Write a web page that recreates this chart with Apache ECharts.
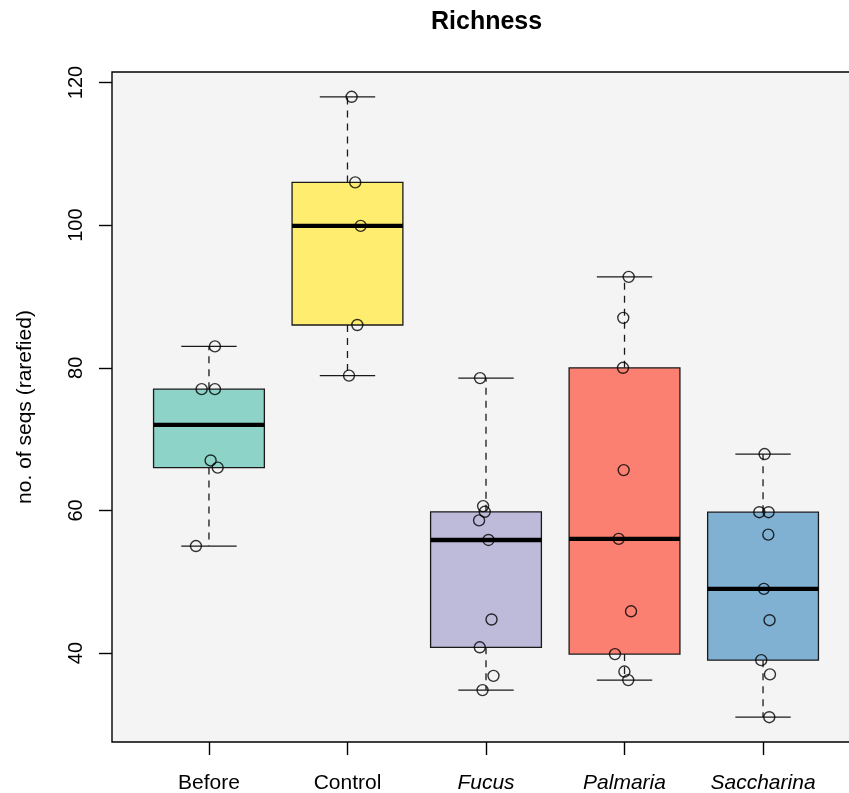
<!DOCTYPE html>
<html>
<head>
<meta charset="utf-8">
<title>Richness</title>
<script src="https://cdn.jsdelivr.net/npm/echarts@6/dist/echarts.min.js"></script>
<style>
  html, body { margin: 0; padding: 0; background: #fff; }
  #chart { width: 849px; height: 793px; }
</style>
</head>
<body>
<div id="chart"></div>
<script>
// Groups, in plotting order
const categories = ['Before', 'Control', 'Fucus', 'Palmaria', 'Saccharina'];

// Observed richness per sample (rarefied number of sequences)
const beforeValues     = [83, 77, 77, 67, 66, 55];
const controlValues    = [118, 106, 99.9, 86, 78.9];
const fucusValues      = [78.55, 60.6, 59.8, 58.6, 55.85, 44.7, 40.8, 36.8, 34.8];
const palmariaValues   = [92.75, 87, 80, 65.65, 56, 45.85, 39.85, 37.4, 36.2];
const saccharinaValues = [67.9, 59.75, 59.75, 56.6, 49, 44.6, 39, 37, 31];

// Horizontal jitter of each sample, in group units
const beforeJitter     = [0.043, -0.053, 0.043, 0.012, 0.063, -0.094];
const controlJitter    = [0.03, 0.056, 0.095, 0.071, 0.011];
const fucusJitter      = [-0.043, -0.021, -0.009, -0.05, 0.018, 0.04, -0.045, 0.054, -0.025];
const palmariaJitter   = [0.03, -0.009, -0.011, -0.006, -0.042, 0.047, -0.069, -0.001, 0.027];
const saccharinaJitter = [0.011, -0.027, 0.04, 0.038, 0.006, 0.047, -0.013, 0.05, 0.045];

// Axis ticks
const yTicks = [40, 60, 80, 100, 120];
const xTicks = [1, 2, 3, 4, 5];

const groupValues = [beforeValues, controlValues, fucusValues, palmariaValues, saccharinaValues];
const groupJitter = [beforeJitter, controlJitter, fucusJitter, palmariaJitter, saccharinaJitter];

const boxColors = ['#8DD3C7', '#FFED6F', '#BEBADA', '#FB8072', '#80B1D3'];
const italicGroups = new Set(['Fucus', 'Palmaria', 'Saccharina']);
const FONT = '"Liberation Sans", Arial, Helvetica, sans-serif';

// Tukey five-number summary (same hinges as R's boxplot)
function fivenum(arr) {
  const x = arr.slice().sort((a, b) => a - b);
  const n = x.length;
  const n4 = Math.floor((n + 3) / 2) / 2;
  const d = [1, n4, (n + 1) / 2, n + 1 - n4, n];
  return d.map(v => 0.5 * (x[Math.floor(v) - 1] + x[Math.ceil(v) - 1]));
}

// Whiskers reach the most extreme points within 1.5 IQR of the hinges
function boxStats(arr) {
  const f = fivenum(arr);
  const iqr = f[3] - f[1];
  const inside = arr.filter(v => v >= f[1] - 1.5 * iqr && v <= f[3] + 1.5 * iqr);
  return [Math.min(...inside), f[1], f[2], f[3], Math.max(...inside)];
}

const boxData = groupValues.map((vals, i) => [i + 1].concat(boxStats(vals)));

const pointData = [];
groupValues.forEach((vals, i) => {
  vals.forEach((v, j) => pointData.push([i + 1 + groupJitter[i][j], v]));
});

const BOX_HALF = 0.4;
const STAPLE_HALF = 0.2;

function renderBox(params, api) {
  const x = api.value(0);
  const lo = api.value(1), q1 = api.value(2), med = api.value(3), q3 = api.value(4), hi = api.value(5);
  const pLoL = api.coord([x - STAPLE_HALF, lo]);
  const pLoR = api.coord([x + STAPLE_HALF, lo]);
  const pHiL = api.coord([x - STAPLE_HALF, hi]);
  const pHiR = api.coord([x + STAPLE_HALF, hi]);
  const cLo = api.coord([x, lo]);
  const cQ1 = api.coord([x, q1]);
  const cQ3 = api.coord([x, q3]);
  const cHi = api.coord([x, hi]);
  const bTL = api.coord([x - BOX_HALF, q3]);
  const bBR = api.coord([x + BOX_HALF, q1]);
  const mL = api.coord([x - BOX_HALF, med]);
  const mR = api.coord([x + BOX_HALF, med]);
  const lineStyle = { stroke: '#1a1a1a', lineWidth: 1.3 };
  const dashStyle = { stroke: '#1a1a1a', lineWidth: 1.3, lineDash: [7, 6] };
  return {
    type: 'group',
    children: [
      { type: 'line', shape: { x1: cQ3[0], y1: cQ3[1], x2: cHi[0], y2: cHi[1] }, style: dashStyle },
      { type: 'line', shape: { x1: cQ1[0], y1: cQ1[1], x2: cLo[0], y2: cLo[1] }, style: dashStyle },
      { type: 'line', shape: { x1: pHiL[0], y1: pHiL[1], x2: pHiR[0], y2: pHiR[1] }, style: lineStyle },
      { type: 'line', shape: { x1: pLoL[0], y1: pLoL[1], x2: pLoR[0], y2: pLoR[1] }, style: lineStyle },
      {
        type: 'rect',
        shape: { x: bTL[0], y: bTL[1], width: bBR[0] - bTL[0], height: bBR[1] - bTL[1] },
        style: { fill: boxColors[params.dataIndex], stroke: '#1a1a1a', lineWidth: 1.3 }
      },
      { type: 'line', shape: { x1: mL[0], y1: mL[1], x2: mR[0], y2: mR[1] }, style: { stroke: '#000', lineWidth: 4.3 } }
    ]
  };
}

const chart = echarts.init(document.getElementById('chart'), null, { renderer: 'canvas' });

chart.setOption({
  animation: false,
  backgroundColor: '#ffffff',
  title: {
    text: 'Richness',
    left: 426,
    top: 5,
    textStyle: { fontFamily: FONT, fontSize: 25, fontWeight: 'bold', color: '#000' }
  },
  grid: {
    left: 112,
    top: 72,
    width: 748,
    height: 670,
    outerBoundsMode: 'none',
    containLabel: false,
    show: true,
    backgroundColor: '#F4F4F4',
    borderColor: '#000',
    borderWidth: 1.4
  },
  xAxis: {
    type: 'value',
    min: 0.3,
    max: 5.7,
    splitLine: { show: false },
    axisLine: { show: false },
    axisTick: { show: true, customValues: xTicks, length: 13, lineStyle: { color: '#000', width: 1.4 } },
    axisLabel: {
      customValues: xTicks,
      margin: 31,
      formatter: function (v) {
        const name = categories[Math.round(v) - 1];
        return italicGroups.has(name) ? '{i|' + name + '}' : '{n|' + name + '}';
      },
      rich: {
        n: { fontFamily: FONT, fontSize: 21, color: '#000' },
        i: { fontFamily: FONT, fontSize: 21, fontStyle: 'italic', color: '#000' }
      }
    }
  },
  yAxis: {
    type: 'value',
    min: 27.52,
    max: 121.48,
    name: 'no. of seqs (rarefied)',
    nameLocation: 'middle',
    nameGap: 76,
    nameTextStyle: { fontFamily: FONT, fontSize: 21, color: '#000' },
    splitLine: { show: false },
    axisLine: { show: false },
    axisTick: { show: true, customValues: yTicks, length: 13, lineStyle: { color: '#000', width: 1.4 } },
    axisLabel: {
      customValues: yTicks,
      rotate: 90,
      margin: 26,
      fontFamily: FONT,
      fontSize: 20,
      color: '#000'
    }
  },
  series: [
    {
      type: 'custom',
      name: 'boxes',
      renderItem: renderBox,
      encode: { x: 0, y: [1, 2, 3, 4, 5] },
      data: boxData,
      z: 2
    },
    {
      type: 'scatter',
      name: 'samples',
      data: pointData,
      symbol: 'circle',
      symbolSize: 11,
      itemStyle: { color: 'rgba(0,0,0,0)', borderColor: '#000', borderWidth: 1.4 },
      z: 3
    }
  ]
});
</script>
</body>
</html>
